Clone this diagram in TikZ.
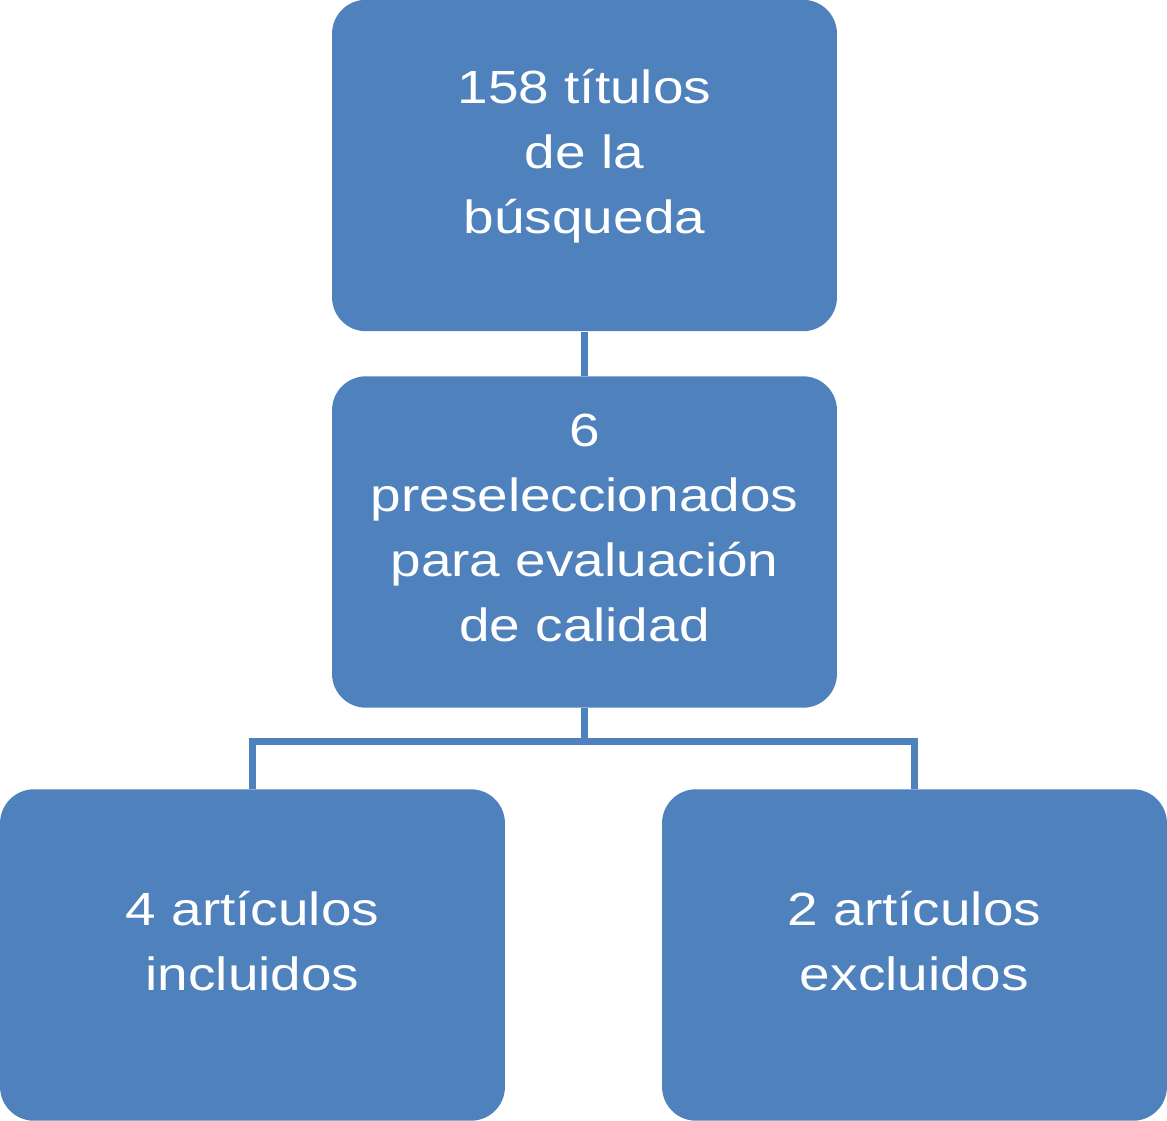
\documentclass[tikz,border=0pt]{standalone}
\usepackage{fontspec}
\newfontfamily\cajafont{Liberation Sans}[FakeStretch=1.18]
\definecolor{azul}{RGB}{79,129,189}
\newcommand{\fin}{\rule[-0.6em]{0pt}{0.6em}}

\tikzstyle{caja} = [fill=azul, rounded corners=0.68cm, minimum width=10.1cm, minimum height=6.63cm, inner sep=0pt, align=center, text=white, font=\cajafont\fontsize{26.5}{37}\selectfont]
\tikzstyle{linea} = [draw=azul, line width=0.14cm]

\begin{document}
\begin{tikzpicture}[x=0.02cm, y=-0.02cm]
\useasboundingbox (0,0) rectangle (1167,1120);
\node[caja] (busqueda) at (584.5,165.5) {158 títulos\\de la\\búsqueda\fin};
\node[caja] (presel) at (584.5,542) {6\\preseleccionados\\para evaluación\\de calidad\fin};
\node[caja] (incluidos) at (252.5,955) {4 artículos\\incluidos\fin};
\node[caja] (excluidos) at (914.5,955) {2 artículos\\excluidos\fin};
\coordinate (rama) at (584.5,741);

\draw[linea] (busqueda.south) -- (presel.north);
\draw[linea] (presel.south) -- (rama);
\draw[linea] (incluidos.north) |- (rama) -| (excluidos.north);
\end{tikzpicture}
\end{document}
